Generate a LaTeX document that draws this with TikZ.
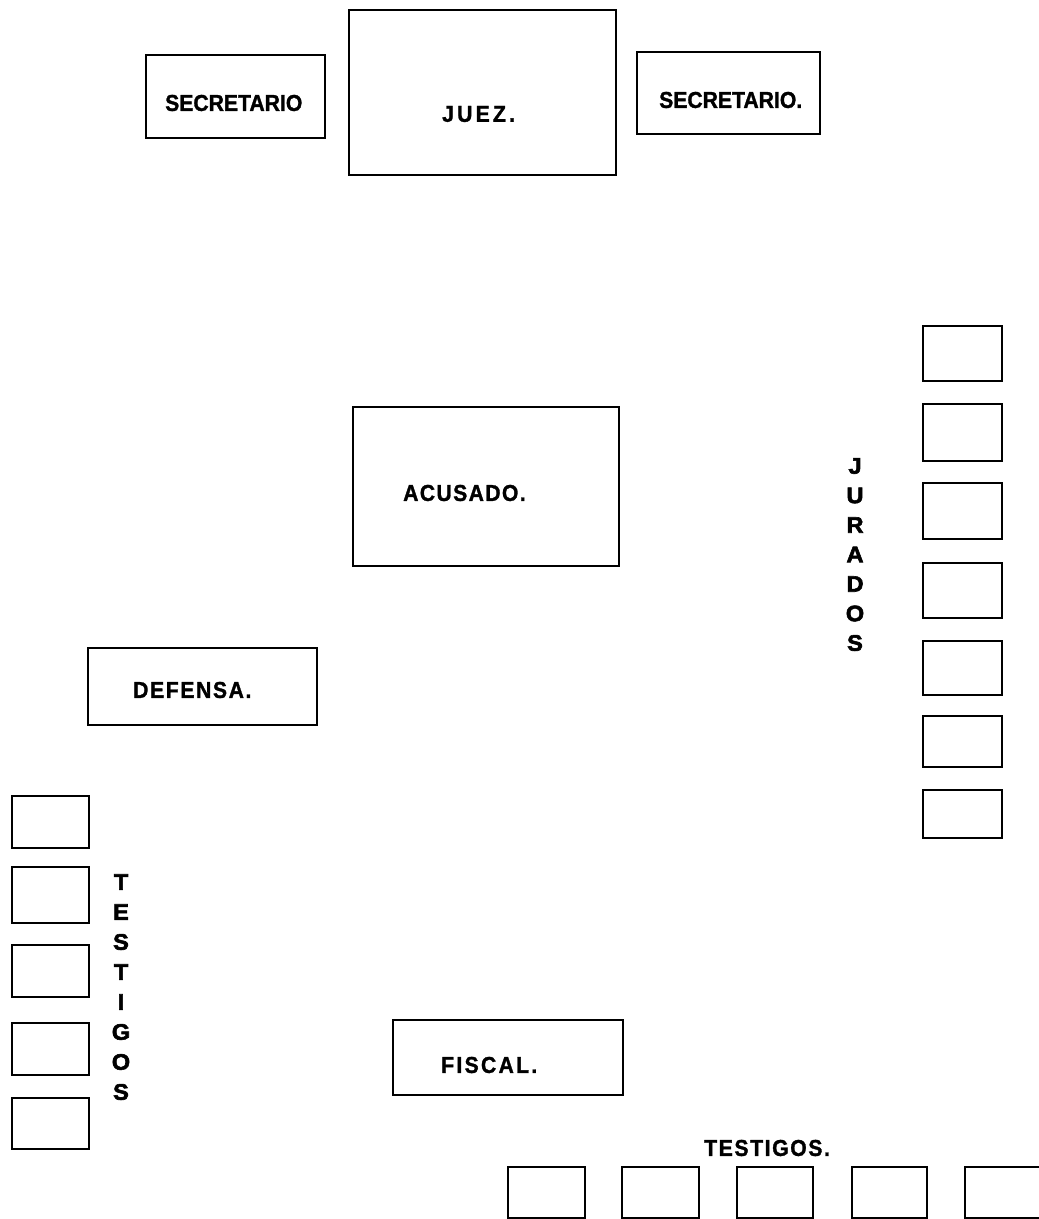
\documentclass[tikz,border=0pt]{standalone}
\usepackage{fontspec}
\setmainfont{Liberation Sans}
\newfontfamily\lblfont{Liberation Sans Bold}[FakeBold=1.3,FakeStretch=0.92]
\newfontfamily\vfont{Liberation Sans Bold}[FakeBold=2.6,FakeStretch=1.05]
\begin{document}
\begin{tikzpicture}[x=1pt,y=-1pt,
  seat/.style={draw=black,line width=2.8pt,fill=none,inner sep=0pt},
  lbl/.style={inner sep=0pt,anchor=west,font=\lblfont\fontsize{23}{27}\selectfont},
  vlt/.style={inner sep=0pt,anchor=center,font=\vfont\fontsize{22.5}{26}\selectfont}]
\useasboundingbox (0,0) rectangle (1039,1219);
\fill[white] (0,0) rectangle (1039,1219);
% boxes
\node[seat,minimum width=179pt,minimum height=83pt] (secL) at (235.5,96.5) {};
\node[seat,minimum width=267pt,minimum height=165pt] (juez) at (482.5,92.5) {};
\node[seat,minimum width=183pt,minimum height=82pt] (secR) at (728.5,93) {};
\node[seat,minimum width=266pt,minimum height=159pt] (acusado) at (486,486.5) {};
\node[seat,minimum width=229pt,minimum height=77pt] (defensa) at (202.5,686.5) {};
\node[seat,minimum width=230pt,minimum height=75pt] (fiscal) at (508,1057.5) {};
% jurados
\foreach \i/\ya/\yb in {1/326/381,2/404/461,3/483/539,4/563/618,5/641/695,6/716/767,7/790/838}{
  \node[seat,minimum width=79pt,minimum height={\yb-\ya}] (jur\i) at (962.5,{(\ya+\yb)/2}) {};
}
% testigos izquierda
\foreach \i/\ya/\yb in {1/796/848,2/867/923,3/945/997,4/1023/1075,5/1098/1149}{
  \node[seat,minimum width=77pt,minimum height={\yb-\ya}] (tl\i) at (50.5,{(\ya+\yb)/2}) {};
}
% testigos abajo
\foreach \i/\xa/\xb in {1/508/585,2/622/699,3/737/813,4/852/927,5/965/1045}{
  \node[seat,minimum width={\xb-\xa},minimum height=51pt] (tb\i) at ({(\xa+\xb)/2},1192.5) {};
}
% labels
\node[lbl] (tsecL) at (165,103) {SECRETARIO};
\node[lbl] (tjuez) at (442,114) {\addfontfeature{LetterSpace=14}JUEZ.};
\node[lbl] (tsecR) at (659,100) {SECRETARIO.};
\node[lbl] (tacus) at (403,493) {\addfontfeature{LetterSpace=6}ACUSADO.};
\node[lbl] (tdef) at (133,690) {\addfontfeature{LetterSpace=7}DEFENSA.};
\node[lbl] (tfis) at (441,1065) {\addfontfeature{LetterSpace=10}FISCAL.};
\node[lbl] (ttes) at (704,1148) {\addfontfeature{LetterSpace=7}TESTIGOS.};
% vertical labels
\foreach \c [count=\k from 0] in {J,U,R,A,D,O,S}{
  \node[vlt] (jl\k) at (855,{466+29.5*\k}) {\c};
}
\foreach \c [count=\k from 0] in {T,E,S,T,I,G,O,S}{
  \node[vlt] (tll\k) at (121,{882+30*\k}) {\c};
}
\end{tikzpicture}
\end{document}
